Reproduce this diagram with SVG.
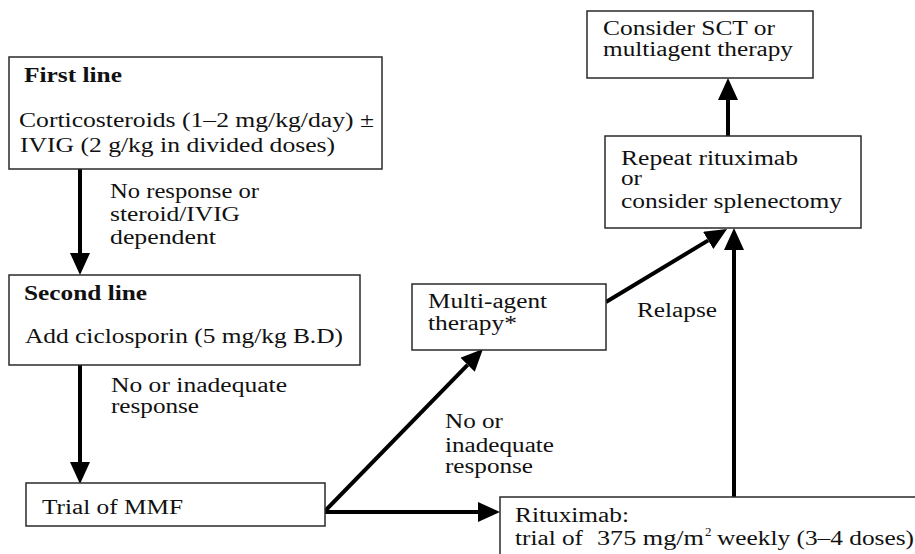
<svg xmlns="http://www.w3.org/2000/svg" width="915" height="554" viewBox="0 0 915 554">
<style>
.box{fill:#fff;stroke:#2a2a2a;stroke-width:1.5}
.t{font-family:"Liberation Serif","Times New Roman",Times,serif;font-size:20px;fill:#111}
.b{font-weight:bold}
.c{stroke:#000;stroke-width:4;fill:none}
</style>
<defs>
<marker id="ah" markerUnits="userSpaceOnUse" markerWidth="22" markerHeight="20" refX="0" refY="10" orient="auto">
<path d="M0,0 L22,10 L0,20 z" fill="#000"/>
</marker>
</defs>
<rect width="915" height="554" fill="#fff"/>
<g id="connectors">
<line class="c" x1="80" y1="169" x2="80" y2="253" marker-end="url(#ah)"/>
<line class="c" x1="80" y1="365" x2="80" y2="462" marker-end="url(#ah)"/>
<line class="c" x1="325" y1="512" x2="478" y2="512" marker-end="url(#ah)"/>
<line class="c" x1="325" y1="511" x2="467.6" y2="364.8" marker-end="url(#ah)"/>
<line class="c" x1="606" y1="302" x2="708.2" y2="240.4" marker-end="url(#ah)"/>
<line class="c" x1="734" y1="497" x2="734" y2="250" marker-end="url(#ah)"/>
<line class="c" x1="728" y1="136" x2="728" y2="100" marker-end="url(#ah)"/>
<text class="t" x="110" y="198" textLength="149" lengthAdjust="spacingAndGlyphs">No response or</text>
<text class="t" x="110" y="221" textLength="130" lengthAdjust="spacingAndGlyphs">steroid/IVIG</text>
<text class="t" x="110" y="244" textLength="106" lengthAdjust="spacingAndGlyphs">dependent</text>
<text class="t" x="111" y="392" textLength="176" lengthAdjust="spacingAndGlyphs">No or inadequate</text>
<text class="t" x="111" y="413" textLength="88" lengthAdjust="spacingAndGlyphs">response</text>
<text class="t" x="445" y="428" textLength="58" lengthAdjust="spacingAndGlyphs">No or</text>
<text class="t" x="445" y="452" textLength="109" lengthAdjust="spacingAndGlyphs">inadequate</text>
<text class="t" x="445" y="473" textLength="88" lengthAdjust="spacingAndGlyphs">response</text>
<text class="t" x="637" y="317" textLength="80" lengthAdjust="spacingAndGlyphs">Relapse</text>
</g>
<g id="first-line">
<rect class="box" x="9" y="57" width="373" height="112"/>
<text class="t b" x="24" y="82" textLength="98" lengthAdjust="spacingAndGlyphs">First line</text>
<text class="t" x="19" y="127" textLength="355" lengthAdjust="spacingAndGlyphs">Corticosteroids (1–2 mg/kg/day) ±</text>
<text class="t" x="20" y="152" textLength="315" lengthAdjust="spacingAndGlyphs">IVIG (2 g/kg in divided doses)</text>
</g>
<g id="second-line">
<rect class="box" x="9" y="275" width="351" height="90"/>
<text class="t b" x="24" y="300" textLength="123" lengthAdjust="spacingAndGlyphs">Second line</text>
<text class="t" x="25" y="343" textLength="318" lengthAdjust="spacingAndGlyphs">Add ciclosporin (5 mg/kg B.D)</text>
</g>
<g id="mmf">
<rect class="box" x="26" y="483" width="299" height="43"/>
<text class="t" x="42" y="514" textLength="141" lengthAdjust="spacingAndGlyphs">Trial of MMF</text>
</g>
<g id="multi-agent">
<rect class="box" x="412" y="284" width="194" height="66"/>
<text class="t" x="428" y="308" textLength="119" lengthAdjust="spacingAndGlyphs">Multi-agent</text>
<text class="t" x="428" y="330" textLength="89" lengthAdjust="spacingAndGlyphs">therapy*</text>
</g>
<g id="rituximab">
<rect class="box" x="500" y="497" width="430" height="80"/>
<text class="t" x="515" y="522" textLength="114" lengthAdjust="spacingAndGlyphs">Rituximab:</text>
<text class="t" x="515" y="545" textLength="68" lengthAdjust="spacingAndGlyphs">trial of</text>
<text class="t" x="597" y="545" textLength="107" lengthAdjust="spacingAndGlyphs">375 mg/m</text>
<text class="t" x="705" y="536" style="font-size:13px">2</text>
<text class="t" x="717" y="545" textLength="197" lengthAdjust="spacingAndGlyphs">weekly (3–4 doses)</text>
</g>
<g id="repeat">
<rect class="box" x="605" y="136" width="256" height="92"/>
<text class="t" x="621" y="165" textLength="177" lengthAdjust="spacingAndGlyphs">Repeat rituximab</text>
<text class="t" x="621" y="185" textLength="21" lengthAdjust="spacingAndGlyphs">or</text>
<text class="t" x="621" y="208" textLength="221" lengthAdjust="spacingAndGlyphs">consider splenectomy</text>
</g>
<g id="consider-sct">
<rect class="box" x="587" y="11" width="226" height="67"/>
<text class="t" x="603" y="35" textLength="172" lengthAdjust="spacingAndGlyphs">Consider SCT or</text>
<text class="t" x="603" y="56" textLength="190" lengthAdjust="spacingAndGlyphs">multiagent therapy</text>
</g>
</svg>
